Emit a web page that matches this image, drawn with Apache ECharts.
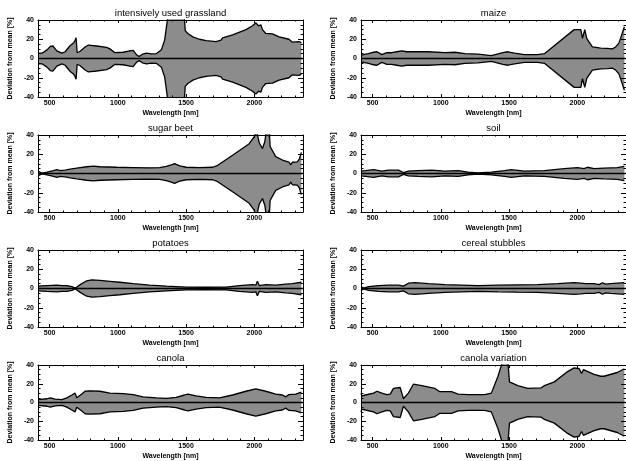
<!DOCTYPE html>
<html><head><meta charset="utf-8">
<script src="https://cdn.jsdelivr.net/npm/echarts@6/dist/echarts.min.js"></script>
<style>html,body{margin:0;padding:0;background:#fff}#c{width:626px;height:461px}</style>
</head><body><div id="c"></div>
<script>
const X_MIN = 415, X_MAX = 2357;
const Y_MIN = -40, Y_MAX = 40;
const X_MAJOR = [500, 1000, 1500, 2000];
const X_MINOR = [600,700,800,900,1100,1200,1300,1400,1600,1700,1800,1900,2100,2200,2300];
const TITLES = ['intensively used grassland','maize','sugar beet','soil','potatoes','cereal stubbles','canola','canola variation'];

const WL_GRASS = [415,444,481,505,524,553,590,614,651,675,687,694,702,724,760,784,845,918,942,979,1039,1088,1112,1137,1156,1180,1210,1246,1282,1319,1343,1368,1390,1470,1484,1494,1513,1550,1598,1647,1720,1756,1768,1841,1939,1987,2011,2031,2048,2060,2084,2133,2182,2254,2279,2327,2345];
const DEV_GRASS = [5.5,5.5,9,12.5,13,8,5.5,7,13.5,16,19,21.5,6,7.5,12,14,13,11.5,10,6,6.5,8,8.5,4,2,4.5,5.5,4.8,5,9,19,45,60,60,50,29,26,22.5,20,18.5,17.5,19,21.5,24.5,30,34,37,34,35,30,26,25.5,22.5,20,17,17.5,16.5];

const WL_MAIZE = [415,422,470,507,532,568,604,640,677,714,750,811,908,1030,1103,1176,1273,1370,1455,1491,1540,1613,1710,1759,1977,2026,2038,2055,2069,2087,2111,2172,2220,2257,2281,2305,2322,2345];
const DEV_MAIZE = [3.5,4,5,6.5,7,4,6,6,7,8,7,7,7,6,6.5,5,4.5,3,6,7,5.5,4,4,5,30,30,21,30,21,17,12,10.7,10.5,10,12,16,23,33];

const WL_BEET = [415,444,481,529,553,578,614,651,699,772,821,869,991,1112,1234,1307,1355,1392,1416,1453,1501,1598,1696,1732,1841,1963,1999,2016,2036,2060,2077,2092,2109,2116,2157,2206,2254,2267,2279,2315,2330,2345];
const DEV_BEET = [2.5,0.5,1.5,3,4,3,3.5,4.5,5.5,7,7.6,7,6.5,6.2,5.9,6.2,7.5,9,10.3,8,6.5,6,6.5,8.5,19,31,38,45,32,26,33,48,48,28,17.6,14,11.7,9,11.7,12,15,22];

const WL_SOIL = [415,447,507,568,617,690,726,762,835,933,1030,1127,1200,1273,1370,1467,1516,1613,1759,1905,2001,2050,2075,2123,2196,2293,2345];
const DEV_SOIL = [2.5,3,4,2.5,3.5,3.5,1,2.5,3,3.5,2.5,3,1.5,0.5,1.5,3,4,2.5,3,5,6,5,6.5,5,5.5,6,7.5];

const WL_POTATO = [415,481,553,590,626,663,690,724,772,809,869,942,1015,1112,1234,1355,1501,1647,1793,1890,1987,2011,2023,2036,2084,2157,2230,2279,2345];
const DEV_POTATO = [2.5,3,3.5,3,3,2,0.5,4,8,9,8.5,7.5,6.5,5,3.5,2.5,1.5,1.3,1.5,3,4,3.5,7.5,3,4,3.5,4.5,5,6.5];

const WL_CEREAL = [415,434,471,544,617,690,726,762,811,908,1030,1151,1273,1419,1564,1710,1856,1977,2026,2062,2123,2160,2184,2208,2245,2345];
const DEV_CEREAL = [2,0.5,2,3,3.5,3.5,2.5,5.5,6,5,4,3.5,3,3.5,3.8,4,5,6,5.5,5,5,4,6,4.5,5,6];

const WL_CANOLA = [415,481,505,541,590,626,663,687,699,711,736,760,796,869,942,1039,1112,1185,1282,1355,1428,1489,1513,1574,1647,1744,1841,1939,2011,2084,2157,2206,2230,2254,2303,2345];
const DEV_CANOLA = [3,4,5,3.5,3,5,8,10,5,3,9,12,12.5,12,10,9.5,8.5,6,5,4.5,5.5,8,9,7,5.5,5,8,12,14.5,12,9,8,6,8.5,9,11];

const WL_CANVAR = [415,422,447,507,532,568,604,629,653,702,714,726,762,799,860,957,993,1078,1127,1200,1321,1370,1419,1455,1491,1503,1564,1637,1734,1759,1832,1929,1977,2014,2031,2045,2123,2172,2196,2293,2345];
const DEV_CANVAR = [10,7,8,10,12,10,8.5,9,15,16,15.5,4,10,19.5,18,15,11.5,11.5,9,8.5,8.5,10,28,45,45,22,18,15,15.5,18,22,33,37,36,31,35,30,28,28,32,36];

const PANELS = [
  [WL_GRASS, DEV_GRASS], [WL_MAIZE, DEV_MAIZE],
  [WL_BEET, DEV_BEET], [WL_SOIL, DEV_SOIL],
  [WL_POTATO, DEV_POTATO], [WL_CEREAL, DEV_CEREAL],
  [WL_CANOLA, DEV_CANOLA], [WL_CANVAR, DEV_CANVAR]
];

const FONT = '"Liberation Sans", Arial, sans-serif';
const FILL = '#8c8c8c';
const colLeft = [38, 361], gridW = 265, gridH = 77, rowTop = [20, 135, 250, 365];
const plain = v => String(v);

const grids = [], xAxes = [], yAxes = [], series = [], titles = [];
PANELS.forEach(([wl, dev], k) => {
  const col = k % 2, row = Math.floor(k / 2);
  grids.push({left: colLeft[col], top: rowTop[row], width: gridW, height: gridH, containLabel: false});
  titles.push({text: TITLES[k], left: colLeft[col] + gridW / 2, top: rowTop[row] - 12, textAlign: 'center', padding: 0,
    textStyle: {fontFamily: FONT, fontSize: 9.5, fontWeight: 'normal', color: '#000'}});
  const base = {type: 'value', gridIndex: k, min: X_MIN, max: X_MAX, splitLine: {show: false}, z: 5};
  xAxes.push(Object.assign({}, base, {position: 'bottom',
    axisLine: {show: true, onZero: false, lineStyle: {color: '#000', width: 1}},
    axisTick: {show: true, inside: true, length: 3, customValues: X_MAJOR, lineStyle: {color: '#000'}},
    axisLabel: {show: true, customValues: X_MAJOR, formatter: plain, fontSize: 7, fontWeight: 'bold', color: '#000', fontFamily: FONT, margin: 3},
    name: 'Wavelength [nm]', nameLocation: 'middle', nameGap: 13,
    nameTextStyle: {fontSize: 7, fontWeight: 'bold', color: '#000', fontFamily: FONT}}));
  xAxes.push(Object.assign({}, base, {position: 'bottom', axisLine: {show: false, onZero: false},
    axisTick: {show: true, inside: true, length: 1.5, customValues: X_MINOR, lineStyle: {color: '#000'}},
    axisLabel: {show: false}}));
  xAxes.push(Object.assign({}, base, {position: 'top',
    axisLine: {show: true, onZero: false, lineStyle: {color: '#000', width: 1}},
    axisTick: {show: true, inside: true, length: 3, customValues: X_MAJOR, lineStyle: {color: '#000'}},
    axisLabel: {show: false}}));
  xAxes.push(Object.assign({}, base, {position: 'top', axisLine: {show: false, onZero: false},
    axisTick: {show: true, inside: true, length: 1.5, customValues: X_MINOR, lineStyle: {color: '#000'}},
    axisLabel: {show: false}}));
  const ybase = {type: 'value', gridIndex: k, min: Y_MIN, max: Y_MAX, interval: 20, splitLine: {show: false}, z: 5,
    axisLine: {show: true, onZero: false, lineStyle: {color: '#000', width: 1}},
    axisTick: {show: true, inside: true, length: 5, lineStyle: {color: '#000'}},
    minorTick: {show: true, splitNumber: 4, length: 2.5, lineStyle: {color: '#000'}}};
  yAxes.push(Object.assign({}, ybase, {position: 'left',
    axisLabel: {show: true, formatter: plain, fontSize: 7, fontWeight: 'bold', color: '#000', fontFamily: FONT, margin: 4},
    name: 'Deviation from mean [%]', nameLocation: 'middle', nameGap: 24, nameRotate: 90,
    nameTextStyle: {fontSize: 7, fontWeight: 'bold', color: '#000', fontFamily: FONT}}));
  yAxes.push(Object.assign({}, ybase, {position: 'right', axisLabel: {show: false}}));
  const common = {type: 'line', xAxisIndex: 4 * k, yAxisIndex: 2 * k, showSymbol: false, symbol: 'none',
    silent: true, animation: false, clip: true,
    lineStyle: {color: '#000', width: 1.3}, areaStyle: {color: FILL, opacity: 1, origin: 0}};
  series.push(Object.assign({}, common, {data: wl.map((w, i) => [w, dev[i]]),
    markLine: {silent: true, symbol: 'none', label: {show: false}, animation: false,
      lineStyle: {color: '#000', width: 1.3, type: 'solid'}, data: [{yAxis: 0}]}}));
  series.push(Object.assign({}, common, {data: wl.map((w, i) => [w, -dev[i]])}));
});

const chart = echarts.init(document.getElementById('c'), null, {renderer: 'canvas'});
chart.setOption({animation: false, backgroundColor: '#fff', title: titles, grid: grids, xAxis: xAxes, yAxis: yAxes, series: series});
</script>
</body></html>
